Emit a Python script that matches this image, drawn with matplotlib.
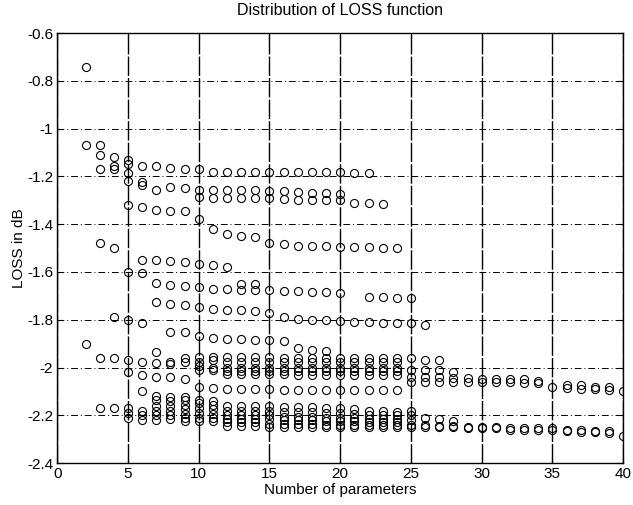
import matplotlib
matplotlib.use("Agg")
import matplotlib.pyplot as plt
from matplotlib.ticker import FormatStrFormatter

plt.rcParams["font.family"] = ["Liberation Sans", "DejaVu Sans"]
plt.rcParams["axes.unicode_minus"] = False

# scattered points at the low parameter counts
early_x = [2, 2, 2, 3, 3, 3, 3, 3, 3, 4, 4, 4, 4, 4, 4, 4]
early_y = [-0.74, -1.07, -1.90, -1.07, -1.11, -1.17, -1.48, -1.96, -2.17,
           -1.12, -1.155, -1.17, -1.50, -1.79, -1.96, -2.17]

# odd single points
extra_x = [5, 5, 5, 5, 6, 6, 6, 13, 14, 25, 25, 25, 26, 27, 28]
extra_y = [-1.13, -1.185, -1.22, -1.80, -1.225, -1.235, -1.815, -1.65, -1.65,
           -2.18, -2.20, -2.22, -2.21, -2.215, -2.225]

# bands: each starts at a given number of parameters, one value per step
top_y = [-1.15, -1.155, -1.155, -1.165, -1.17, -1.17, -1.18, -1.18, -1.18,
         -1.18, -1.18, -1.18, -1.18, -1.18, -1.18, -1.18, -1.185, -1.185]
row125_y = [-1.255, -1.245, -1.25, -1.255, -1.255, -1.255, -1.255, -1.255,
            -1.26, -1.26, -1.265, -1.27, -1.27, -1.275]
row129_y = [-1.285, -1.29, -1.29, -1.29, -1.29, -1.29, -1.295, -1.30, -1.30,
            -1.30, -1.30, -1.31, -1.31, -1.315]
drift_y = [-1.32, -1.33, -1.34, -1.345, -1.345, -1.38, -1.42, -1.44, -1.45,
           -1.455, -1.48, -1.485, -1.49, -1.49, -1.49, -1.495, -1.495, -1.495,
           -1.50, -1.50]
row155_y = [-1.55, -1.55, -1.555, -1.56, -1.565, -1.57, -1.58]
row160_y = [-1.60, -1.605, -1.645, -1.655, -1.66, -1.665, -1.67, -1.67, -1.675,
            -1.675, -1.675, -1.68, -1.68, -1.685, -1.685, -1.69]
row170_y = [-1.705, -1.705, -1.71, -1.71]
row173_y = [-1.725, -1.735, -1.74, -1.745, -1.755, -1.76, -1.76, -1.765, -1.77,
            -1.79, -1.795, -1.80, -1.80, -1.805, -1.81, -1.81, -1.815, -1.815,
            -1.815, -1.82]
row185_y = [-1.85, -1.85, -1.87, -1.875, -1.88, -1.88, -1.885, -1.885, -1.89,
            -1.92, -1.925, -1.93]
u1_y = [-1.97, -1.975, -1.935, -1.975, -1.96, -1.955, -1.955, -1.955, -1.955,
        -1.955, -1.955, -1.96, -1.96, -1.96, -1.96, -1.96, -1.96, -1.96, -1.96,
        -1.96]
u2_y = [-1.98, -1.985, -1.975, -1.975, -1.97, -1.975, -1.975, -1.975, -1.975,
        -1.975, -1.975, -1.975, -1.975, -1.975, -1.975, -1.975, -1.975, -1.975]
u3_y = [-2.02, -2.03, -2.04, -2.04, -2.05, -1.995, -2.0, -2.0, -2.0, -2.0,
        -2.0, -2.0, -2.0, -2.0, -2.0, -2.0, -2.0, -2.0, -2.0, -2.0]
u4_y = [-2.01, -2.01, -2.015, -2.015, -2.015, -2.015, -2.015, -2.015, -2.015,
        -2.015, -2.015, -2.015, -2.015, -2.015, -2.015]
u5_y = [-2.025, -2.025, -2.025, -2.025, -2.025, -2.03, -2.03, -2.03, -2.03,
        -2.03, -2.03, -2.03, -2.03]
row209_y = [-2.10, -2.12, -2.125, -2.125, -2.08, -2.085, -2.09, -2.09, -2.09,
            -2.09, -2.095, -2.095, -2.095, -2.095, -2.095, -2.095, -2.095,
            -2.095, -2.095]
row213_y = [-2.135, -2.14, -2.135, -2.135, -2.14]
l1_y = [-2.17, -2.18, -2.16, -2.16, -2.155, -2.15, -2.155, -2.16, -2.16, -2.16,
        -2.16, -2.165, -2.165, -2.165, -2.17, -2.17, -2.175, -2.18, -2.18,
        -2.185]
l2_y = [-2.19, -2.20, -2.18, -2.18, -2.175, -2.17, -2.175, -2.18, -2.18, -2.18,
        -2.18, -2.185, -2.185, -2.185, -2.19, -2.19, -2.195, -2.20, -2.20,
        -2.20]
l3_y = [-2.21, -2.22, -2.20, -2.20, -2.195, -2.19, -2.195, -2.20, -2.20, -2.20,
        -2.20, -2.205, -2.205, -2.205, -2.21, -2.21, -2.21, -2.215, -2.215,
        -2.215]
l4_y = [-2.22, -2.215, -2.21, -2.21, -2.21, -2.215, -2.215, -2.215, -2.215,
        -2.22, -2.22, -2.22, -2.225, -2.225, -2.225, -2.23, -2.23, -2.23]
l5_y = [-2.225, -2.225, -2.225, -2.23, -2.23, -2.23, -2.235, -2.235, -2.235,
        -2.235, -2.24, -2.24, -2.24, -2.24, -2.24, -2.24]
l6_y = [-2.245, -2.245, -2.245, -2.25, -2.25, -2.25, -2.25, -2.25, -2.25,
        -2.25, -2.25, -2.25, -2.25]
ra_y = [-2.06, -2.06, -2.06, -2.06, -2.06, -2.06, -2.06, -2.06, -2.065, -2.065,
        -2.08, -2.085, -2.09, -2.09, -2.095, -2.10]
rb_y = [-2.04, -2.04, -2.04, -2.045, -2.045, -2.05, -2.05, -2.05, -2.05, -2.055]
rb2_y = [-2.075, -2.075, -2.08, -2.08]
rc_y = [-2.01, -2.01, -2.01, -2.02]
rd_y = [-1.96, -1.97, -1.97]
rf_y = [-2.25, -2.25, -2.25, -2.25, -2.255, -2.255, -2.255, -2.26, -2.26, -2.26,
        -2.26, -2.265, -2.27, -2.27, -2.275, -2.285]
rf2_y = [-2.24, -2.24, -2.245, -2.245, -2.25, -2.25, -2.25, -2.255, -2.255,
         -2.255, -2.255, -2.26, -2.26, -2.265, -2.265]

bands = [(5, top_y), (7, row125_y), (10, row129_y), (5, drift_y), (6, row155_y),
         (5, row160_y), (22, row170_y), (7, row173_y), (8, row185_y),
         (5, u1_y), (7, u2_y), (5, u3_y), (10, u4_y), (12, u5_y),
         (6, row209_y), (7, row213_y), (5, l1_y), (5, l2_y), (5, l3_y),
         (7, l4_y), (9, l5_y), (12, l6_y), (25, ra_y), (25, rb_y),
         (36, rb2_y), (25, rc_y), (25, rd_y), (25, rf_y), (25, rf2_y)]

xs = list(early_x) + list(extra_x)
ys = list(early_y) + list(extra_y)
for start, vals in bands:
    xs += list(range(start, start + len(vals)))
    ys += vals

fig = plt.figure(figsize=(6.33, 5.05), dpi=100)
ax = fig.add_axes([0.0905, 0.083, 0.894, 0.8515])
ax.plot(xs, ys, "o", markersize=5.8, markerfacecolor="none",
        markeredgecolor="black", markeredgewidth=0.8)

ax.set_xlim(0, 40)
ax.set_ylim(-2.4, -0.6)
ax.set_xticks(range(0, 41, 5))
ax.set_yticks([-2.4, -2.2, -2.0, -1.8, -1.6, -1.4, -1.2, -1.0, -0.8, -0.6])
ax.yaxis.set_major_formatter(FormatStrFormatter("%g"))
ax.tick_params(direction="in", top=True, right=True, labelsize=11,
               length=4, width=0.8, pad=3)
ax.xaxis.grid(True, color="black", linestyle=(0, (14, 1.5)), linewidth=1.0)
ax.yaxis.grid(True, color="black", linestyle=(0, (7, 3, 1, 3)), linewidth=0.7)
for s in ax.spines.values():
    s.set_linewidth(1.0)

ax.set_title("Distribution of LOSS function", fontsize=11.5, pad=13)
ax.set_xlabel("Number of parameters", fontsize=11, labelpad=1)
ax.set_ylabel("LOSS in dB", fontsize=11, labelpad=1)

plt.savefig("out.png", dpi=100)
plt.close()
